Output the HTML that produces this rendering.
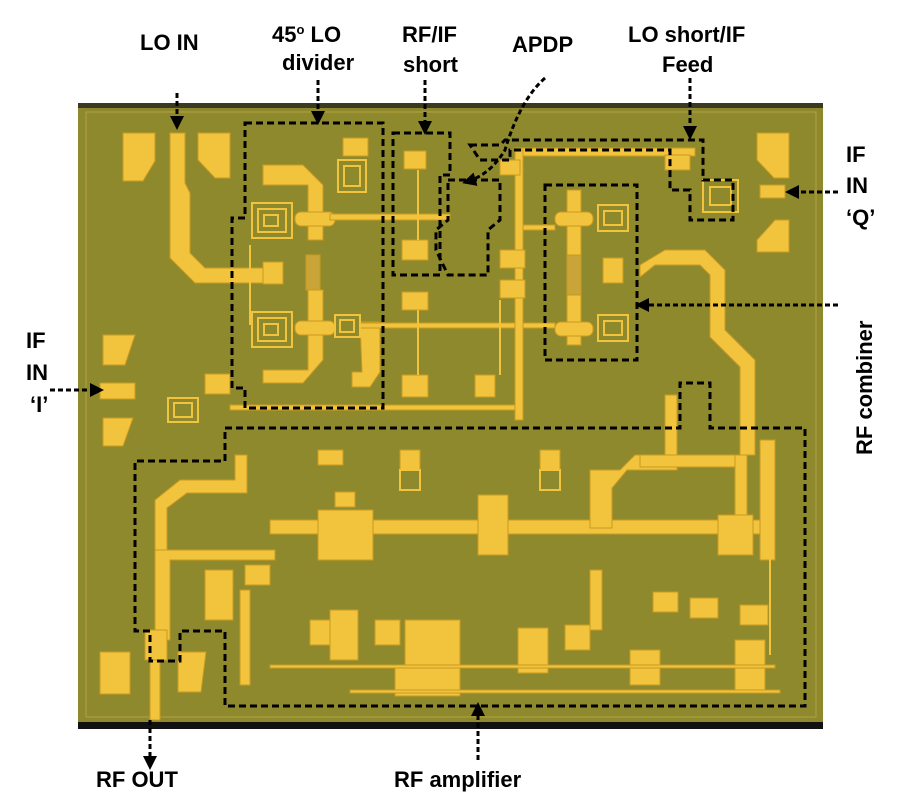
<!DOCTYPE html>
<html><head><style>
html,body{margin:0;padding:0;background:#fff;width:900px;height:800px;overflow:hidden}
svg{display:block}
text{font-family:"Liberation Sans",Arial,sans-serif;font-weight:bold;font-size:22px;fill:#000}
</style></head><body>
<svg width="900" height="800" viewBox="0 0 900 800">
<defs>
<marker id="ah" markerWidth="14" markerHeight="14" refX="10" refY="7" orient="auto" markerUnits="userSpaceOnUse"><path d="M0,0 L14,7 L0,14z" fill="#000"/></marker>
</defs>
<rect x="78" y="103" width="745" height="625" fill="#8f892e"/>
<rect x="78" y="103" width="745" height="5" fill="#3a3a20"/>
<rect x="78" y="722" width="745" height="7" fill="#111"/>
<rect x="86" y="112" width="730" height="605" fill="none" stroke="#b0a440" stroke-width="1"/>
<g fill="#f2c43e" stroke="#c99a20" stroke-width="1">
<path d="M123,133 h32 v28 l-12,20 h-20z"/>
<path d="M198,133 h32 v45 h-15 l-17,-18z"/>
<path d="M757,133 h32 v45 h-15 l-17,-18z"/>
<path d="M757,240 l18,-20 h14 v32 h-32z"/>
<path d="M103,335 h32 l-10,30 h-22z"/>
<path d="M103,418 h30 l-10,28 h-20z"/>
<path d="M100,652 h30 v42 h-30z"/>
<path d="M178,652 h28 l-5,40 h-23z"/>
<path d="M170,133 h15 v50 l5,10 v60 l15,15 h75 v15 h-85 l-25,-25z"/>
<path d="M263,165 h40 l20,20 v55 h-15 v-55 h-45z"/>
<path d="M308,290 h15 v70 l-20,23 h-40 v-13 h45z"/>
<rect x="306" y="255" width="14" height="35" fill="#c9a438"/>
<rect x="295" y="212" width="40" height="14" rx="6"/>
<rect x="295" y="321" width="40" height="14" rx="6"/>
<rect x="263" y="262" width="20" height="22"/>
<rect x="343" y="138" width="25" height="18"/>
<path d="M360,322 h20 v50 l-10,15 h-18 v-15 h10z"/>
<rect x="205" y="374" width="25" height="20"/>
<rect x="100" y="383" width="35" height="16"/>
<rect x="330" y="214" width="120" height="6"/>
<rect x="360" y="323" width="160" height="5"/>
<rect x="230" y="405" width="290" height="5"/>
<rect x="515" y="225" width="40" height="5"/>
<rect x="515" y="323" width="40" height="5"/>
<rect x="515" y="148" width="180" height="8"/>
<rect x="515" y="150" width="8" height="270"/>
<rect x="404" y="151" width="22" height="18"/>
<rect x="402" y="240" width="26" height="20"/>
<rect x="402" y="292" width="26" height="18"/>
<rect x="402" y="375" width="26" height="22"/>
<rect x="475" y="375" width="20" height="22"/>
<rect x="500" y="250" width="25" height="18"/>
<rect x="500" y="280" width="25" height="18"/>
<rect x="500" y="160" width="20" height="15"/>
<rect x="665" y="155" width="25" height="15"/>
<rect x="567" y="190" width="14" height="155"/>
<rect x="555" y="212" width="38" height="14" rx="6"/>
<rect x="555" y="322" width="38" height="14" rx="6"/>
<rect x="567" y="255" width="14" height="40" fill="#c9a438"/>
<rect x="603" y="258" width="20" height="25"/>
<path d="M640,265 l25,-15 h40 l20,20 v60 l30,30 v95 h-15 v-88 l-30,-30 v-62 l-10,-10 h-45 l-15,12z"/>
<rect x="760" y="185" width="25" height="13"/>
<rect x="270" y="520" width="500" height="14"/>
<rect x="760" y="440" width="15" height="120"/>
<path d="M155,550 h120 v10 h-105 v80 h-15z"/>
<path d="M155,500 l25,-20 h55 v-25 h12 v38 h-60 l-20,15 v42 h-12z"/>
<rect x="145" y="630" width="22" height="30"/>
<rect x="150" y="660" width="10" height="60"/>
<path d="M590,470 h30 l15,-15 h30 v-60 h12 v75 h-50 l-15,18 v40 h-22z"/>
<rect x="640" y="455" width="100" height="12"/>
<rect x="735" y="455" width="12" height="65"/>
<rect x="318" y="510" width="55" height="50"/>
<rect x="478" y="495" width="30" height="60"/>
<rect x="718" y="515" width="35" height="40"/>
<rect x="335" y="492" width="20" height="15"/>
<rect x="318" y="450" width="25" height="15"/>
<rect x="400" y="450" width="20" height="20"/>
<rect x="540" y="450" width="20" height="20"/>
<rect x="205" y="570" width="28" height="50"/>
<rect x="245" y="565" width="25" height="20"/>
<rect x="310" y="620" width="20" height="25"/>
<rect x="330" y="610" width="28" height="50"/>
<rect x="375" y="620" width="25" height="25"/>
<rect x="405" y="620" width="55" height="45"/>
<rect x="395" y="668" width="65" height="28"/>
<rect x="518" y="628" width="30" height="45"/>
<rect x="565" y="625" width="25" height="25"/>
<rect x="630" y="650" width="30" height="35"/>
<rect x="653" y="592" width="25" height="20"/>
<rect x="690" y="598" width="28" height="20"/>
<rect x="735" y="640" width="30" height="25"/>
<rect x="735" y="665" width="30" height="25"/>
<rect x="740" y="605" width="28" height="20"/>
<rect x="590" y="570" width="12" height="60"/>
<rect x="240" y="590" width="10" height="95"/>
<rect x="270" y="665" width="505" height="3"/>
<rect x="350" y="690" width="430" height="3"/>
</g>
<g fill="none" stroke="#f2c43e" stroke-width="2">
<path d="M250,245 v80 M418,170 v70 M418,310 v65 M770,555 v100 M500,300 v75"/>
</g>
<g fill="none" stroke="#f2c43e" stroke-width="2">
<rect x="252" y="203" width="40" height="35"/><rect x="258" y="209" width="28" height="23"/><rect x="264" y="215" width="14" height="11"/>
<rect x="252" y="312" width="40" height="35"/><rect x="258" y="318" width="28" height="23"/><rect x="264" y="324" width="14" height="11"/>
<rect x="338" y="160" width="28" height="32"/><rect x="344" y="166" width="16" height="20"/>
<rect x="335" y="315" width="25" height="22"/><rect x="340" y="320" width="14" height="12"/>
<rect x="168" y="398" width="30" height="24"/><rect x="174" y="403" width="18" height="14"/>
<rect x="598" y="205" width="30" height="26"/><rect x="604" y="211" width="18" height="14"/>
<rect x="598" y="315" width="30" height="26"/><rect x="604" y="321" width="18" height="14"/>
<rect x="703" y="180" width="35" height="32"/><rect x="710" y="187" width="21" height="18"/>
<rect x="400" y="470" width="20" height="20"/><rect x="540" y="470" width="20" height="20"/>
</g>
<g fill="none" stroke="#000" stroke-width="3" stroke-dasharray="7,4">
<path d="M245,123 h138 v285 h-138 v-20 h-13 v-170 h13z"/>
<path d="M393,133 h57 v42 h-10 v100 h-47z"/>
<path d="M448,180 h52 v40 l-12,10 v45 h-40 l-12,-25 v-20 l12,-10z"/>
<path d="M545,185 h92 v175 h-92z"/>
<path d="M470,145 h30 l5,-5 h198 v40 h30 v40 h-43 v-30 h-20 v-40 h-160 v10 h-30z"/>
<path d="M225,428 h455 v-45 h30 v45 h95 v278 h-580 v-75 h-45 v30 h-30 v-30 h-15 v-170 h90z"/>
</g>
<g stroke="#000" stroke-width="3" stroke-dasharray="5,3" fill="none">
<line x1="177" y1="93" x2="177" y2="126" marker-end="url(#ah)"/>
<line x1="318" y1="80" x2="318" y2="121" marker-end="url(#ah)"/>
<line x1="425" y1="80" x2="425" y2="131" marker-end="url(#ah)"/>
<path d="M545,78 Q520,100 505,150 Q490,175 466,182" marker-end="url(#ah)"/>
<line x1="690" y1="78" x2="690" y2="136" marker-end="url(#ah)"/>
<line x1="838" y1="192" x2="789" y2="192" marker-end="url(#ah)"/>
<line x1="50" y1="390" x2="100" y2="390" marker-end="url(#ah)"/>
<line x1="838" y1="305" x2="639" y2="305" marker-end="url(#ah)"/>
<line x1="150" y1="720" x2="150" y2="766" marker-end="url(#ah)"/>
<line x1="478" y1="760" x2="478" y2="706" marker-end="url(#ah)"/>
</g>
<text x="140" y="50">LO IN</text>
<text x="272" y="42">45<tspan dy="-8" font-size="13">o</tspan><tspan dy="8"> LO</tspan></text>
<text x="282" y="70">divider</text>
<text x="402" y="42">RF/IF</text>
<text x="403" y="72">short</text>
<text x="512" y="52">APDP</text>
<text x="628" y="42">LO short/IF</text>
<text x="662" y="72">Feed</text>
<text x="846" y="162">IF</text>
<text x="846" y="193">IN</text>
<text x="846" y="225">‘Q’</text>
<text x="26" y="348">IF</text>
<text x="26" y="380">IN</text>
<text x="30" y="412">‘I’</text>
<text x="96" y="787">RF OUT</text>
<text x="394" y="787">RF amplifier</text>
<text transform="translate(872,455) rotate(-90)">RF combiner</text>
</svg>
</body></html>
